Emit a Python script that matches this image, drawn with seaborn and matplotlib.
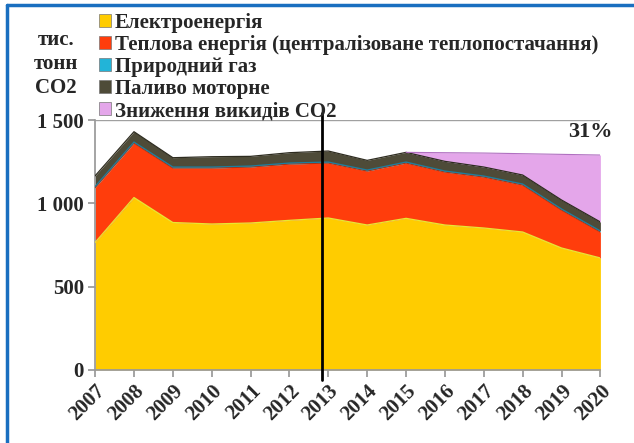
import numpy as np
import pandas as pd
import matplotlib.pyplot as plt
import seaborn as sns
from matplotlib.patches import Patch
from matplotlib.lines import Line2D

# Values (thousand tonnes CO2)
years = [2007, 2008, 2009, 2010, 2011, 2012, 2013, 2014, 2015, 2016, 2017, 2018, 2019, 2020]
electricity = [765, 1035, 885, 876, 882, 898, 912, 870, 910, 870, 852, 828, 732, 672]
heat = [330, 327, 327, 336, 336, 338, 330, 324, 332, 318, 306, 282, 228, 156]
gas = [6, 6, 6, 6, 6, 6, 6, 6, 6, 6, 6, 6, 6, 6]
motor_fuel = [64, 62, 56, 62, 58, 62, 66, 58, 58, 58, 54, 54, 54, 54]
reduction = [0, 0, 0, 0, 0, 0, 0, 0, 0, 52, 84, 128, 274, 402]

labels = ["Електроенергія",
          "Теплова енергія (централізоване теплопостачання)",
          "Природний газ",
          "Паливо моторне",
          "Зниження викидів CO2"]
colors = ["#FFCC00", "#FF3D0C", "#22B4D8", "#4E4B38", "#E4A6EA"]
edges = ["#E8E830", "#B03010", "#1A7FA0", "#2E2C20", "#B070C0"]

sns.set_theme(style="white")
plt.rcParams["font.family"] = ["Liberation Serif", "DejaVu Serif"]
plt.rcParams["font.weight"] = "bold"

df = pd.DataFrame({"year": years, "e": electricity, "h": heat, "g": gas,
                   "m": motor_fuel, "r": reduction})
cum = df[["e", "h", "g", "m", "r"]].cumsum(axis=1)

fig = plt.figure(figsize=(6.34, 4.43), dpi=100)
ax = fig.add_axes([0.150, 0.165, 0.797, 0.564])

lower = np.zeros(len(years))
for col, c, ec in zip(["e", "h", "g", "m", "r"], colors, edges):
    upper = cum[col].values
    ax.fill_between(df["year"], lower, upper, color=c, lw=0, zorder=2)
    if col == "r":
        sns.lineplot(x=df["year"][8:], y=upper[8:], color=ec, lw=0.8, ax=ax, zorder=3)
    else:
        sns.lineplot(x=df["year"], y=upper, color=ec, lw=0.9, ax=ax, zorder=3)
    lower = upper

ax.set_xlim(2007, 2020)
ax.set_ylim(0, 1500)
ax.set_yticks([0, 500, 1000, 1500])
ax.set_yticklabels(["0", "500", "1 000", "1 500"], fontsize=15, fontweight="bold")
ax.set_xticks(years)
ax.set_xticklabels([str(y) for y in years], rotation=45, ha="right",
                   rotation_mode="anchor", fontsize=15, fontweight="bold")
ax.set_xlabel("")
ax.set_ylabel("")
ax.yaxis.grid(True, color="#A0A0A0", lw=1, zorder=0)
ax.set_axisbelow(True)
for s in ["top", "right"]:
    ax.spines[s].set_visible(False)
for s in ["left", "bottom"]:
    ax.spines[s].set_color("#999999")
ax.tick_params(axis="both", which="both", length=5, color="#999999",
               direction="out", left=True, bottom=True, pad=3)

# marker line
ax.axvline(2012.85, ymin=-0.04, ymax=1.03, color="black", lw=2, clip_on=False, zorder=5)

ax.text(2019.75, 1430, "31%", fontsize=16, fontweight="bold", ha="center", va="center")

fig.text(0.088, 0.855, "тис.\nтонн\nCO2", ha="center", va="center",
         fontsize=15, fontweight="bold", linespacing=1.25)

handles = [Patch(facecolor=c, edgecolor="#777777", lw=0.5) for c in colors]
fig.legend(handles, labels, loc="upper left", bbox_to_anchor=(0.143, 0.99),
           frameon=False, handlelength=0.6, handleheight=0.6,
           handletextpad=0.15, labelspacing=0.1, borderaxespad=0,
           prop={"weight": "bold", "size": 15})

# blue frame (top and left)
fig.add_artist(Line2D([0.011, 1.0], [0.989, 0.989], color="#1A6FC0", lw=2.5,
                      transform=fig.transFigure))
fig.add_artist(Line2D([0.011, 0.011], [0.0, 0.989], color="#1A6FC0", lw=2.5,
                      transform=fig.transFigure))

fig.savefig("out.png", dpi=100)
